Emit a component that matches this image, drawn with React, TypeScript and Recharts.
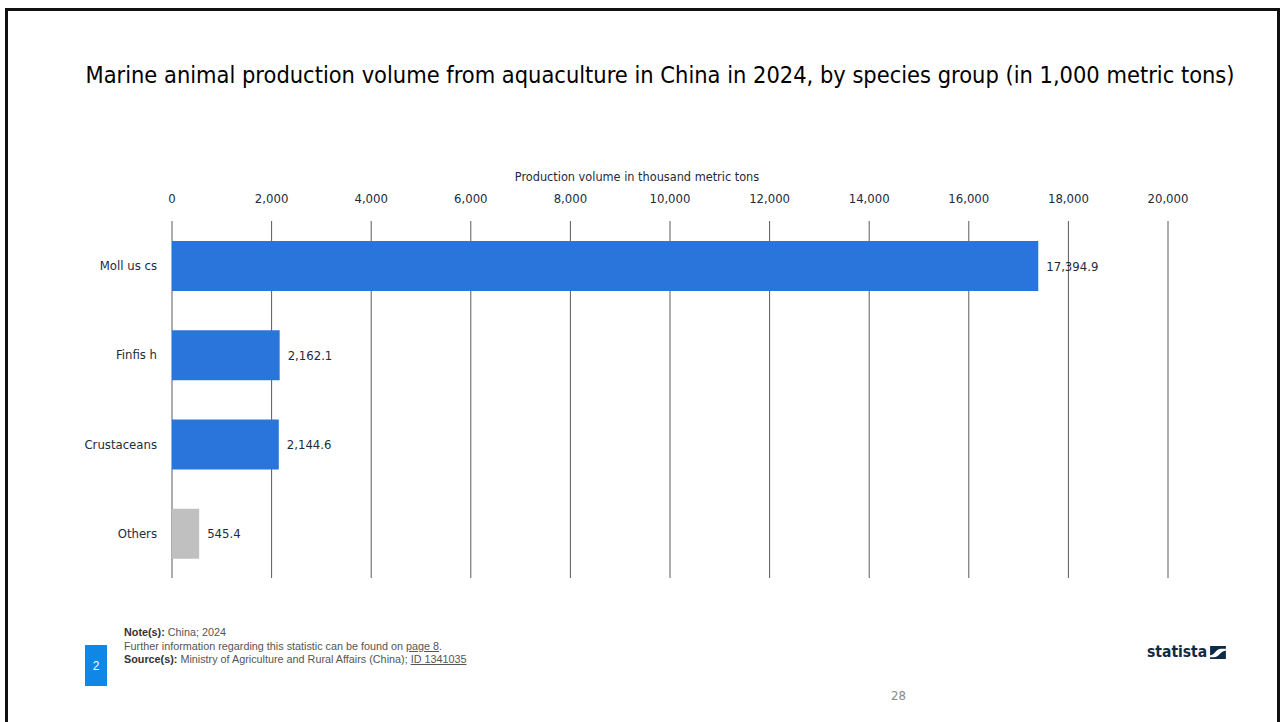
import { BarChart, Bar, XAxis, YAxis, CartesianGrid, Cell, LabelList } from "recharts";

const categories = ["Moll us cs", "Finfis h", "Crustaceans", "Others"];
const volumes = [17394.9, 2162.1, 2144.6, 545.4];
const barColors = ["#2a75dc", "#2a75dc", "#2a75dc", "#c0c0c0"];
const xTicks = [0, 2000, 4000, 6000, 8000, 10000, 12000, 14000, 16000, 18000, 20000];

const chartData = categories.map((name, i) => ({ name, value: volumes[i] }));

const font = "'DejaVu Sans Condensed', 'DejaVu Sans', sans-serif";
const textColor = "#1c2b3d";

const fmtTick = (v: number) => v.toLocaleString("en-US");
const fmtValue = (v: any) =>
  Number(v).toLocaleString("en-US", { minimumFractionDigits: 1, maximumFractionDigits: 1 });

export default function App() {
  return (
    <div style={{ position: "absolute", left: 0, top: 0, width: 1285, height: 722, background: "#fff", overflow: "hidden", fontFamily: font }}>
      {/* slide frame */}
      <div style={{ position: "absolute", left: 5, top: 8, width: 1275, height: 730, border: "3px solid #111", boxSizing: "border-box" }} />

      <div style={{ position: "absolute", left: 0, top: 61, width: 1320, textAlign: "center", fontSize: 23.4, color: "#000" }}>
        Marine animal production volume from aquaculture in China in 2024, by species group (in 1,000 metric tons)
      </div>

      <div style={{ position: "absolute", left: 437, top: 169, width: 400, textAlign: "center", fontSize: 12.6, color: textColor }}>
        Production volume in thousand metric tons
      </div>

      <div style={{ position: "absolute", left: 0, top: 150 }}>
        <BarChart
          layout="vertical"
          width={1285}
          height={450}
          data={chartData}
          margin={{ top: 41, right: 117, left: 72, bottom: 22 }}
          barSize={50}
        >
          <CartesianGrid horizontal={false} stroke="#5a5a5a" strokeWidth={1} />
          <XAxis
            type="number"
            orientation="top"
            domain={[0, 20000]}
            ticks={xTicks}
            tickFormatter={fmtTick}
            axisLine={false}
            tickLine={false}
            tickMargin={12}
            height={30}
            tick={{ fill: textColor, fontSize: 13, fontFamily: font }}
          />
          <YAxis
            type="category"
            dataKey="name"
            width={100}
            axisLine={false}
            tickLine={false}
            tickMargin={9}
            tick={{ fill: textColor, fontSize: 13, fontFamily: font }}
          />
          <Bar dataKey="value" isAnimationActive={false}>
            {chartData.map((d, i) => (
              <Cell key={d.name} fill={barColors[i]} />
            ))}
            <LabelList
              dataKey="value"
              position="right"
              offset={8}
              formatter={fmtValue}
              style={{ fill: textColor, fontSize: 13, fontFamily: font }}
            />
          </Bar>
        </BarChart>
      </div>

      {/* footer */}
      <div style={{ position: "absolute", left: 85, top: 645, width: 22, height: 41, background: "#0f87e6", color: "#fff", fontFamily: "'Liberation Sans', Arial, sans-serif", fontSize: 12, display: "flex", alignItems: "center", justifyContent: "center" }}>
        2
      </div>
      <div style={{ position: "absolute", left: 124, top: 626, fontFamily: "'Liberation Sans', Arial, sans-serif", fontSize: 10.8, lineHeight: "13.5px", color: "#555" }}>
        <div><b style={{ color: "#333", fontWeight: 900 }}>Note(s):</b> China; 2024</div>
        <div>Further information regarding this statistic can be found on <u>page 8</u>.</div>
        <div><b style={{ color: "#333", fontWeight: 900 }}>Source(s):</b> Ministry of Agriculture and Rural Affairs (China); <u>ID 1341035</u></div>
      </div>
      <div style={{ position: "absolute", left: 1147, top: 643, display: "flex", alignItems: "center", gap: 3 }}>
        <span style={{ fontFamily: "'DejaVu Sans Condensed', 'DejaVu Sans', sans-serif", fontWeight: 700, fontSize: 15.5, color: "#0f2a46" }}>statista</span>
        <svg width={16} height={13} viewBox="0 0 17 14">
          <rect x={0} y={0} width={17} height={14} fill="#0f2a46" />
          <path d="M0 10 C5 10 6 3 12 3 L17 3 L17 5 C11 5 10 12 4 12 L0 12 Z" fill="#fff" />
        </svg>
      </div>
      <div style={{ position: "absolute", left: 891, top: 688, fontSize: 13, color: "#888" }}>28</div>
    </div>
  );
}
